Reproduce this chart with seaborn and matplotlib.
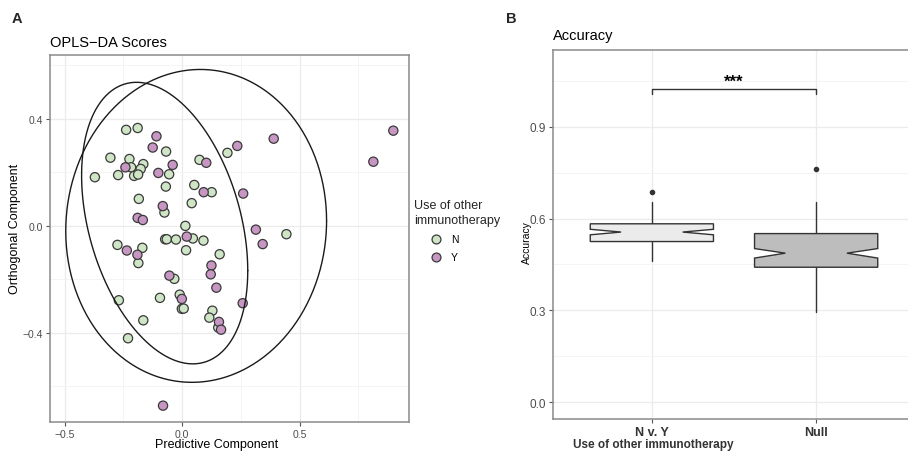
import numpy as np
import pandas as pd
import matplotlib
matplotlib.use("Agg")
import matplotlib.pyplot as plt
from matplotlib.lines import Line2D
import seaborn as sns

# ---------------- data: panel A (OPLS-DA scores) ----------------
n_x = [-0.238, -0.189, -0.068, -0.305, -0.224, -0.217, -0.165, -0.176, 0.074, 0.193,
       -0.371, -0.272, -0.204, -0.187, -0.055, -0.069, 0.052, 0.126, -0.184, 0.041,
       -0.075, 0.014, -0.072, -0.065, -0.026, 0.046, 0.091, -0.275, -0.169, 0.017,
       -0.186, 0.160, -0.033, -0.269, -0.094, -0.010, -0.001, 0.007, 0.129, 0.116,
       0.154, -0.165, -0.230, 0.444]
n_y = [0.359, 0.366, 0.278, 0.255, 0.250, 0.219, 0.231, 0.213, 0.247, 0.273,
       0.182, 0.190, 0.187, 0.192, 0.193, 0.147, 0.153, 0.126, 0.101, 0.085,
       0.050, 0.000, -0.050, -0.050, -0.051, -0.047, -0.055, -0.071, -0.082, -0.091,
       -0.139, -0.106, -0.198, -0.278, -0.269, -0.257, -0.310, -0.309, -0.317, -0.343,
       -0.380, -0.353, -0.420, -0.031]
y_x = [-0.109, -0.125, -0.241, -0.040, 0.103, 0.235, -0.101, 0.092, 0.260, -0.082,
       -0.189, -0.167, 0.020, -0.235, -0.190, 0.125, 0.122, -0.054, 0.146, -0.001,
       0.258, 0.157, 0.166, -0.081, 0.390, 0.899, 0.814, 0.314, 0.343]
y_y = [0.335, 0.293, 0.219, 0.228, 0.236, 0.299, 0.198, 0.126, 0.121, 0.074,
       0.030, 0.022, -0.040, -0.092, -0.108, -0.148, -0.181, -0.186, -0.231, -0.273,
       -0.289, -0.359, -0.388, -0.672, 0.326, 0.356, 0.240, -0.014, -0.068]

# ellipses (center, covariance-like shape matrix)
ell_N_center = [-0.074, 0.0105]
ell_N_shape = [[0.125, -0.063], [-0.063, 0.277]]
ell_Y_center = [0.060, 0.000]
ell_Y_shape = [[0.308, 0.0105], [0.0105, 0.342]]

group_labels = ["N", "Y"]
group_colors = ["#cfe6c6", "#c896c3"]

# ---------------- data: panel B (accuracy boxplots) ----------------
box_labels = ["N v. Y", "Null"]
box_med = [0.556, 0.487]
box_q1 = [0.525, 0.441]
box_q3 = [0.583, 0.551]
box_whislo = [0.463, 0.296]
box_whishi = [0.655, 0.655]
box_cilo = [0.547, 0.471]
box_cihi = [0.565, 0.502]
box_fliers = [[0.688], [0.761]]
box_fill = ["#ebebeb", "#bdbdbd"]
sig_label = "***"

# ---------------- style ----------------
sns.set_theme(style="white")
plt.rcParams["font.family"] = ["Liberation Sans", "DejaVu Sans"]

W, H = 908, 452
fig = plt.figure(figsize=(W / 100, H / 100), dpi=100)

def fx(px):
    return px / W

def fy(py):
    return 1 - py / H

def fbox(x0, x1, ytop, ybot):
    return [x0 / W, 1 - ybot / H, (x1 - x0) / W, (ybot - ytop) / H]

axA = fig.add_axes(fbox(50, 409.3, 55.7, 422.7))
axB = fig.add_axes(fbox(553.3, 914.7, 51, 420))

frame_col = "#8a8a8a"
tick_col = "#4d4d4d"

def style_axes(ax, labelsize):
    for s in ax.spines.values():
        s.set_color(frame_col)
        s.set_linewidth(1.1)
        s.set_visible(True)
    ax.set_facecolor("white")
    ax.grid(True, which="major", color="#ebebeb", linewidth=0.9)
    ax.grid(True, which="minor", color="#f3f3f3", linewidth=0.6)
    ax.set_axisbelow(True)
    ax.tick_params(axis="both", which="major", length=3, width=0.8, color="#555555",
                   labelsize=labelsize, labelcolor=tick_col, pad=2, direction="out",
                   bottom=True, left=True)
    ax.tick_params(axis="both", which="minor", length=0)

# ---------------- panel A ----------------
dfA = pd.DataFrame({
    "x": n_x + y_x,
    "y": n_y + y_y,
    "g": [group_labels[0]] * len(n_x) + [group_labels[1]] * len(y_x),
})
sns.scatterplot(data=dfA, x="x", y="y", hue="g", hue_order=group_labels,
                palette=group_colors, s=44, edgecolor="#3a3a3a", linewidth=0.9,
                ax=axA, zorder=3, legend=False)

t = np.linspace(0, 2 * np.pi, 400)
for c, m in [(ell_N_center, ell_N_shape), (ell_Y_center, ell_Y_shape)]:
    L = np.linalg.cholesky(np.array(m))
    pts = np.array(c)[:, None] + L @ np.vstack([np.cos(t), np.sin(t)])
    axA.plot(pts[0], pts[1], color="#1a1a1a", linewidth=1.0, zorder=4)

axA.set_xlim(-0.562, 0.967)
axA.set_ylim(-0.732, 0.640)
axA.set_xticks([-0.5, 0.0, 0.5])
axA.set_xticks([-0.25, 0.25, 0.75], minor=True)
axA.set_yticks([-0.4, 0.0, 0.4])
axA.set_yticks([-0.6, -0.2, 0.2, 0.6], minor=True)
style_axes(axA, 7.5)
axA.set_xlabel("")
axA.set_ylabel("")
fig.text(fx(216.7), fy(445), "Predictive Component", ha="center", va="center",
         fontsize=9, color="black")
fig.text(fx(15.5), fy(229), "Orthogonal Component", ha="center", va="center",
         rotation=90, fontsize=9, color="black")
axA.set_title("OPLS\u2212DA Scores", fontsize=10.5, loc="left", pad=6, color="black")

# legend (manual, ggplot-like placement)
fig.text(fx(414), fy(206), "Use of other", ha="left", va="center", fontsize=9)
fig.text(fx(414), fy(221), "immunotherapy", ha="left", va="center", fontsize=9)
for lab, col, py in zip(group_labels, group_colors, [240, 258]):
    fig.add_artist(Line2D([fx(436)], [fy(py)], marker="o", markersize=6.4,
                          markerfacecolor=col, markeredgecolor="#3a3a3a",
                          markeredgewidth=0.9, linestyle="none",
                          transform=fig.transFigure))
    fig.text(fx(451), fy(py), lab, ha="left", va="center", fontsize=7.5,
             color="black")

# ---------------- panel B ----------------
stats = []
for i in range(len(box_labels)):
    stats.append(dict(med=box_med[i], q1=box_q1[i], q3=box_q3[i],
                      whislo=box_whislo[i], whishi=box_whishi[i],
                      cilo=box_cilo[i], cihi=box_cihi[i],
                      fliers=box_fliers[i], label=box_labels[i]))
bp = axB.bxp(stats, positions=[0, 1], widths=0.75, shownotches=True,
             showcaps=False, patch_artist=True, manage_ticks=False,
             boxprops=dict(edgecolor="#333333", linewidth=1.0),
             medianprops=dict(color="#333333", linewidth=1.0),
             whiskerprops=dict(color="#333333", linewidth=1.0),
             flierprops=dict(marker="o", markersize=3, markerfacecolor="#333333",
                             markeredgecolor="#333333"))
for patch, col in zip(bp["boxes"], box_fill):
    patch.set_facecolor(col)
    patch.set_zorder(3)

axB.plot([0, 0, 1, 1], [1.008, 1.022, 1.022, 1.008], color="#333333", linewidth=1.0)
axB.text(0.5, 1.034, sig_label, ha="center", va="baseline", fontsize=12,
         fontweight="bold", color="black")

axB.set_xlim(-0.6, 1.6)
axB.set_ylim(-0.055, 1.151)
axB.set_xticks([0, 1])
axB.set_xticklabels(box_labels)
axB.set_yticks([0.0, 0.3, 0.6, 0.9])
axB.set_yticks([0.15, 0.45, 0.75, 1.05], minor=True)
style_axes(axB, 8.5)
for lab in axB.get_xticklabels():
    lab.set_fontweight("bold")
    lab.set_fontsize(9)
    lab.set_color("#333333")
axB.set_ylabel("")
fig.text(fx(527), fy(243), "Accuracy", ha="center", va="center", rotation=90,
         fontsize=7.5, color="black")
axB.set_title("Accuracy", fontsize=10.5, loc="left", pad=8, color="black")
fig.text(fx(653), fy(445), "Use of other immunotherapy", ha="center",
         va="center", fontsize=8.5, fontweight="bold", color="#333333")

# panel letters
fig.text(fx(12), fy(19), "A", fontsize=10.5, fontweight="bold", va="center")
fig.text(fx(506), fy(19), "B", fontsize=10.5, fontweight="bold", va="center")

fig.savefig("out.png", dpi=100)
